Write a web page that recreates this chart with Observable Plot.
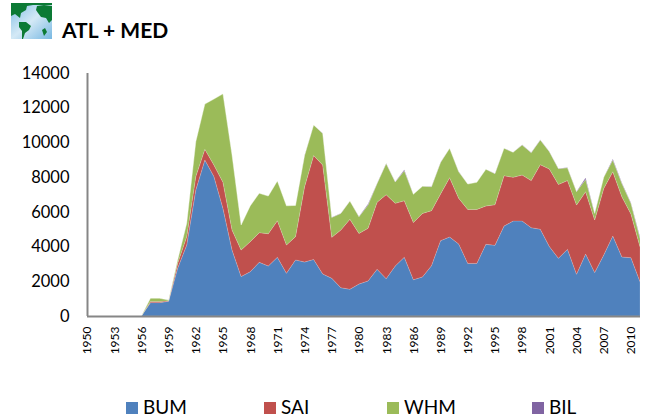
<!DOCTYPE html>
<html><head><meta charset="utf-8">
<script src="https://cdn.jsdelivr.net/npm/d3@7"></script>
<script src="https://cdn.jsdelivr.net/npm/@observablehq/plot@0.6"></script>
<style>
html,body{margin:0;padding:0;background:#fff;overflow:hidden}
body{position:relative;width:646px;height:420px;font-family:Lato,sans-serif;color:#000}
#icon{position:absolute;left:11px;top:3px}
#title{position:absolute;left:62px;top:17px;font-size:21px;font-weight:700;line-height:26px}
#chart{position:absolute;left:0;top:60px}
.lg{position:absolute;top:396px;font-size:19px;line-height:22px;white-space:nowrap}
.sw{position:absolute;top:402px;width:12px;height:12px}
</style></head><body>
<svg id="icon" width="41" height="36" viewBox="0 0 41 36">
<defs><linearGradient id="sea" x1="0" y1="0" x2="1" y2="1"><stop offset="0" stop-color="#7fbde4"/><stop offset=".5" stop-color="#d4e9f6"/><stop offset="1" stop-color="#78b8e2"/></linearGradient></defs>
<rect width="41" height="36" fill="url(#sea)"/>
<path d="M0 0H41V2H22L16 3L15 7L10 10L9 15L4 11L0 13Z" fill="#0c7a35"/>
<path d="M26 3L33 2L41 3V17L38 20L35 15L30 14L27 10L25 7Z" fill="#0c7a35"/>
<path d="M8 19L15 19L20 23L18 27L14 30L12 36H11L11 28L8 24Z" fill="#0c7a35"/>
<path d="M31 27L34 25L36 29L33 33Z" fill="#0c7a35"/>
</svg>
<div id="title">ATL + MED</div>
<div id="chart"></div>
<script>
const firstYear = 1950;
const BUM = [
0,0,0,0,0,0,0,770,770,850,
2750,4090,7260,8990,8030,6200,3800,2270,2550,3090,
2880,3380,2460,3230,3110,3260,2420,2170,1630,1540,
1840,2020,2690,2150,2880,3380,2090,2250,2900,4340,
4550,4150,3030,3030,4130,4070,5180,5470,5470,5090,
5000,4000,3320,3840,2400,3570,2500,3510,4610,3400,
3360,1980];
const SAI = [
0,0,0,0,0,0,0,60,60,30,
280,480,770,610,670,1500,1150,1530,1730,1710,
1860,2110,1630,1340,4340,5980,6280,2360,3320,4030,
2920,3030,3860,4840,3610,3260,3290,3660,3170,2690,
3420,2630,3110,3110,2210,2340,2900,2520,2650,2710,
3720,4470,4260,3960,3990,3590,3030,3840,3700,3470,
2520,2010];
const WHM = [
0,0,0,0,0,0,0,190,190,40,
190,770,2010,2610,3800,5100,4320,1440,2060,2270,
2170,2290,2260,1800,1800,1760,1820,1150,960,1050,
960,1340,1090,1800,1230,1730,1630,1560,1380,1820,
1690,1530,1460,1560,2110,1790,1580,1440,1730,1610,
1420,1000,910,740,770,710,380,640,680,770,
610,480];
const BIL = [
0,0,0,0,0,0,0,0,0,0,
0,0,0,0,0,0,0,0,0,0,
0,0,0,0,10,10,10,10,10,10,
10,60,10,10,10,60,10,10,10,10,
10,10,10,10,10,10,10,10,10,10,
10,10,10,10,10,100,10,10,60,30,
40,80];
const speciesNames = ["BUM","SAI","WHM","BIL"];
const speciesColors = ["#4F81BD","#C0504D","#9BBB59","#8064A2"];
const seriesValues = [BUM,SAI,WHM,BIL];
const yTicks = [0,2000,4000,6000,8000,10000,12000,14000];
const xTicks = d3.range(1950,2011,3);
const legendSwatchX = [126,264,387,532];

const rows = speciesNames.flatMap((name,i)=>seriesValues[i].map((v,j)=>({year:firstYear+j,species:name,value:v})));

const plot = Plot.plot({
  width:646,height:310,
  marginLeft:87,marginRight:6,marginTop:13,marginBottom:54,
  style:{background:"transparent",fontFamily:"Lato,sans-serif",color:"#000"},
  x:{domain:[1950,2011]},
  y:{domain:[0,14000]},
  color:{domain:speciesNames,range:speciesColors},
  marks:[
    Plot.areaY(rows,{x:"year",y:"value",z:"species",fill:"species",stroke:"#fff",strokeOpacity:0.25,strokeWidth:0.6,order:speciesNames}),
    Plot.axisY({ticks:yTicks,tickSize:0,tickPadding:18,fontSize:16.5,label:null,tickFormat:d=>String(d)}),
    Plot.axisX({ticks:xTicks,tickSize:0,tickPadding:10,fontSize:12,tickRotate:-90,label:null,tickFormat:d=>String(d)}),
    Plot.ruleX([1950],{stroke:"#868686",strokeWidth:2}),
    Plot.ruleY([0],{stroke:"#868686",strokeWidth:2})
  ]
});
document.getElementById("chart").appendChild(plot);
speciesNames.forEach((name,i)=>{
  const s=document.createElement("div");s.className="sw";s.style.left=legendSwatchX[i]+"px";s.style.background=speciesColors[i];document.body.appendChild(s);
  const t=document.createElement("div");t.className="lg";t.style.left=(legendSwatchX[i]+17)+"px";t.textContent=name;document.body.appendChild(t);
});
</script>
</body></html>
